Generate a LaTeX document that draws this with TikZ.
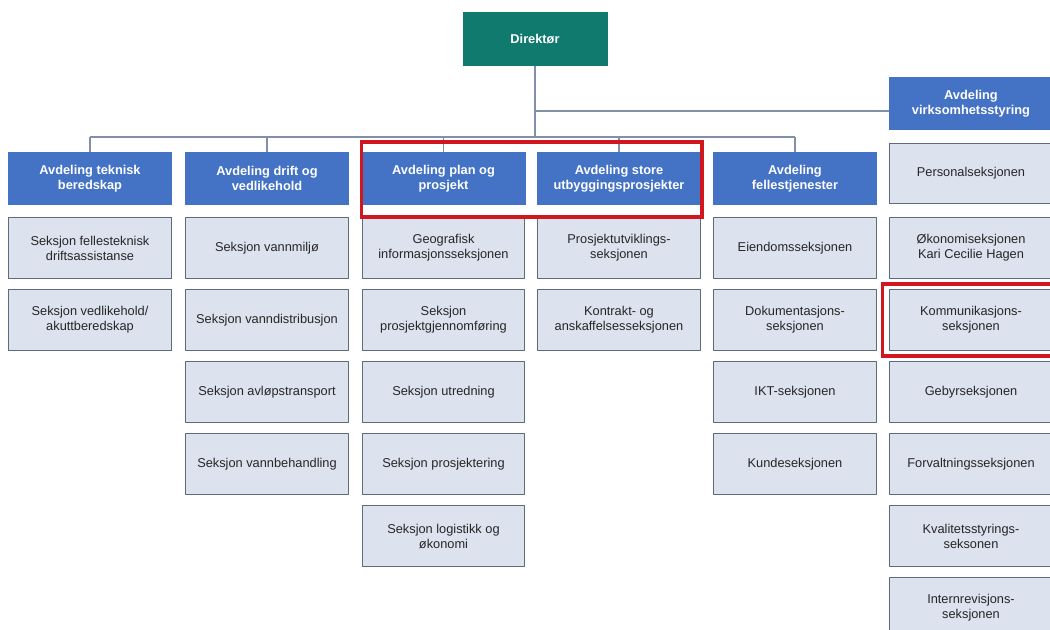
\documentclass[tikz,border=0pt]{standalone}
\usepackage{fontspec}
\setmainfont{Liberation Sans}
\usepackage{xcolor}
\usepackage{tikz}
\usetikzlibrary{calc}
\definecolor{dirteal}{HTML}{107A6E}
\definecolor{avdblue}{HTML}{4472C4}
\definecolor{seksfill}{HTML}{DCE2EE}
\definecolor{seksdraw}{HTML}{5F6B7B}
\definecolor{linkgray}{HTML}{7F90A8}
\definecolor{markred}{HTML}{D0161E}
\newcommand{\orgfont}{\fontsize{9.6}{11.25}\selectfont}
\tikzset{
  direktor/.style={fill=dirteal, text=white, font=\orgfont\bfseries, minimum width=108.75pt, minimum height=40.5pt, inner sep=0pt},
  avd/.style={fill=avdblue, text=white, font=\orgfont\bfseries, align=center, minimum width=123pt, minimum height=39.75pt, inner sep=0pt},
  seksjon/.style={fill=seksfill, draw=seksdraw, line width=0.9pt, text=black!85, font=\orgfont, align=center, minimum width=122pt, minimum height=45.5pt, inner sep=0pt},
  link/.style={draw=linkgray, line width=0.8pt},
  marker/.style={draw=markred, line width=2.8pt}
}

\begin{document}
\begin{tikzpicture}[x=0.75pt,y=-0.75pt]
  \useasboundingbox (0,0) rectangle (1050,630);
  \node[direktor] (dir) at (535,39) {Direktør};
  \node[avd] (avd1) at (90,178.5) {Avdeling teknisk\\beredskap};
  \node[avd] (avd2) at (267,178.5) {Avdeling drift og\\vedlikehold};
  \node[avd] (avd3) at (443.5,178.5) {Avdeling plan og\\prosjekt};
  \node[avd] (avd4) at (619,178.5) {Avdeling store\\utbyggingsprosjekter};
  \node[avd] (avd5) at (795,178.5) {Avdeling\\fellestjenester};
  \node[avd] (virk) at (971,104) {Avdeling\\virksomhetsstyring};
  \coordinate (bar) at (535,137);
  \coordinate (gren) at (535,111);
  \draw[link] (dir.south) -- (bar);
  \draw[link] (gren) -- (gren -| virk.west);
  \draw[link] (avd1.north |- bar) -- (avd5.north |- bar);
  \foreach \n in {1,...,5}
    \draw[link] (avd\n.north |- bar) -- (avd\n.north);
  \foreach \txt [count=\i] in {{Seksjon fellesteknisk\\driftsassistanse},{Seksjon vedlikehold/\\akuttberedskap}}
    \node[seksjon] (s1-\i) at (90,{248+72*(\i-1)}) {\txt};
  \foreach \txt [count=\i] in {{Seksjon vannmiljø},{Seksjon vanndistribusjon},{Seksjon avløpstransport},{Seksjon vannbehandling}}
    \node[seksjon] (s2-\i) at (267,{248+72*(\i-1)}) {\txt};
  \foreach \txt [count=\i] in {{Geografisk\\informasjonsseksjonen},{Seksjon\\prosjektgjennomføring},{Seksjon utredning},{Seksjon prosjektering},{Seksjon logistikk og\\økonomi}}
    \node[seksjon] (s3-\i) at (443.5,{248+72*(\i-1)}) {\txt};
  \foreach \txt [count=\i] in {{Prosjektutviklings-\\seksjonen},{Kontrakt- og\\anskaffelsesseksjonen}}
    \node[seksjon] (s4-\i) at (619,{248+72*(\i-1)}) {\txt};
  \foreach \txt [count=\i] in {{Eiendomsseksjonen},{Dokumentasjons-\\seksjonen},{IKT-seksjonen},{Kundeseksjonen}}
    \node[seksjon] (s5-\i) at (795,{248+72*(\i-1)}) {\txt};
  \node[seksjon] (s6-0) at (971,173.5) {Personalseksjonen};
  \foreach \txt [count=\i] in {{Økonomiseksjonen\\Kari Cecilie Hagen},{Kommunikasjons-\\seksjonen},{Gebyrseksjonen},{Forvaltningsseksjonen},{Kvalitetsstyrings-\\seksonen},{Internrevisjons-\\seksjonen}}
    \node[seksjon] (s6-\i) at (971,{248+72*(\i-1)}) {\txt};
  \draw[marker] (361.5,142) rectangle (702,217);
  \draw[marker] (882.5,284) rectangle (1056,356);
\end{tikzpicture}
\end{document}
